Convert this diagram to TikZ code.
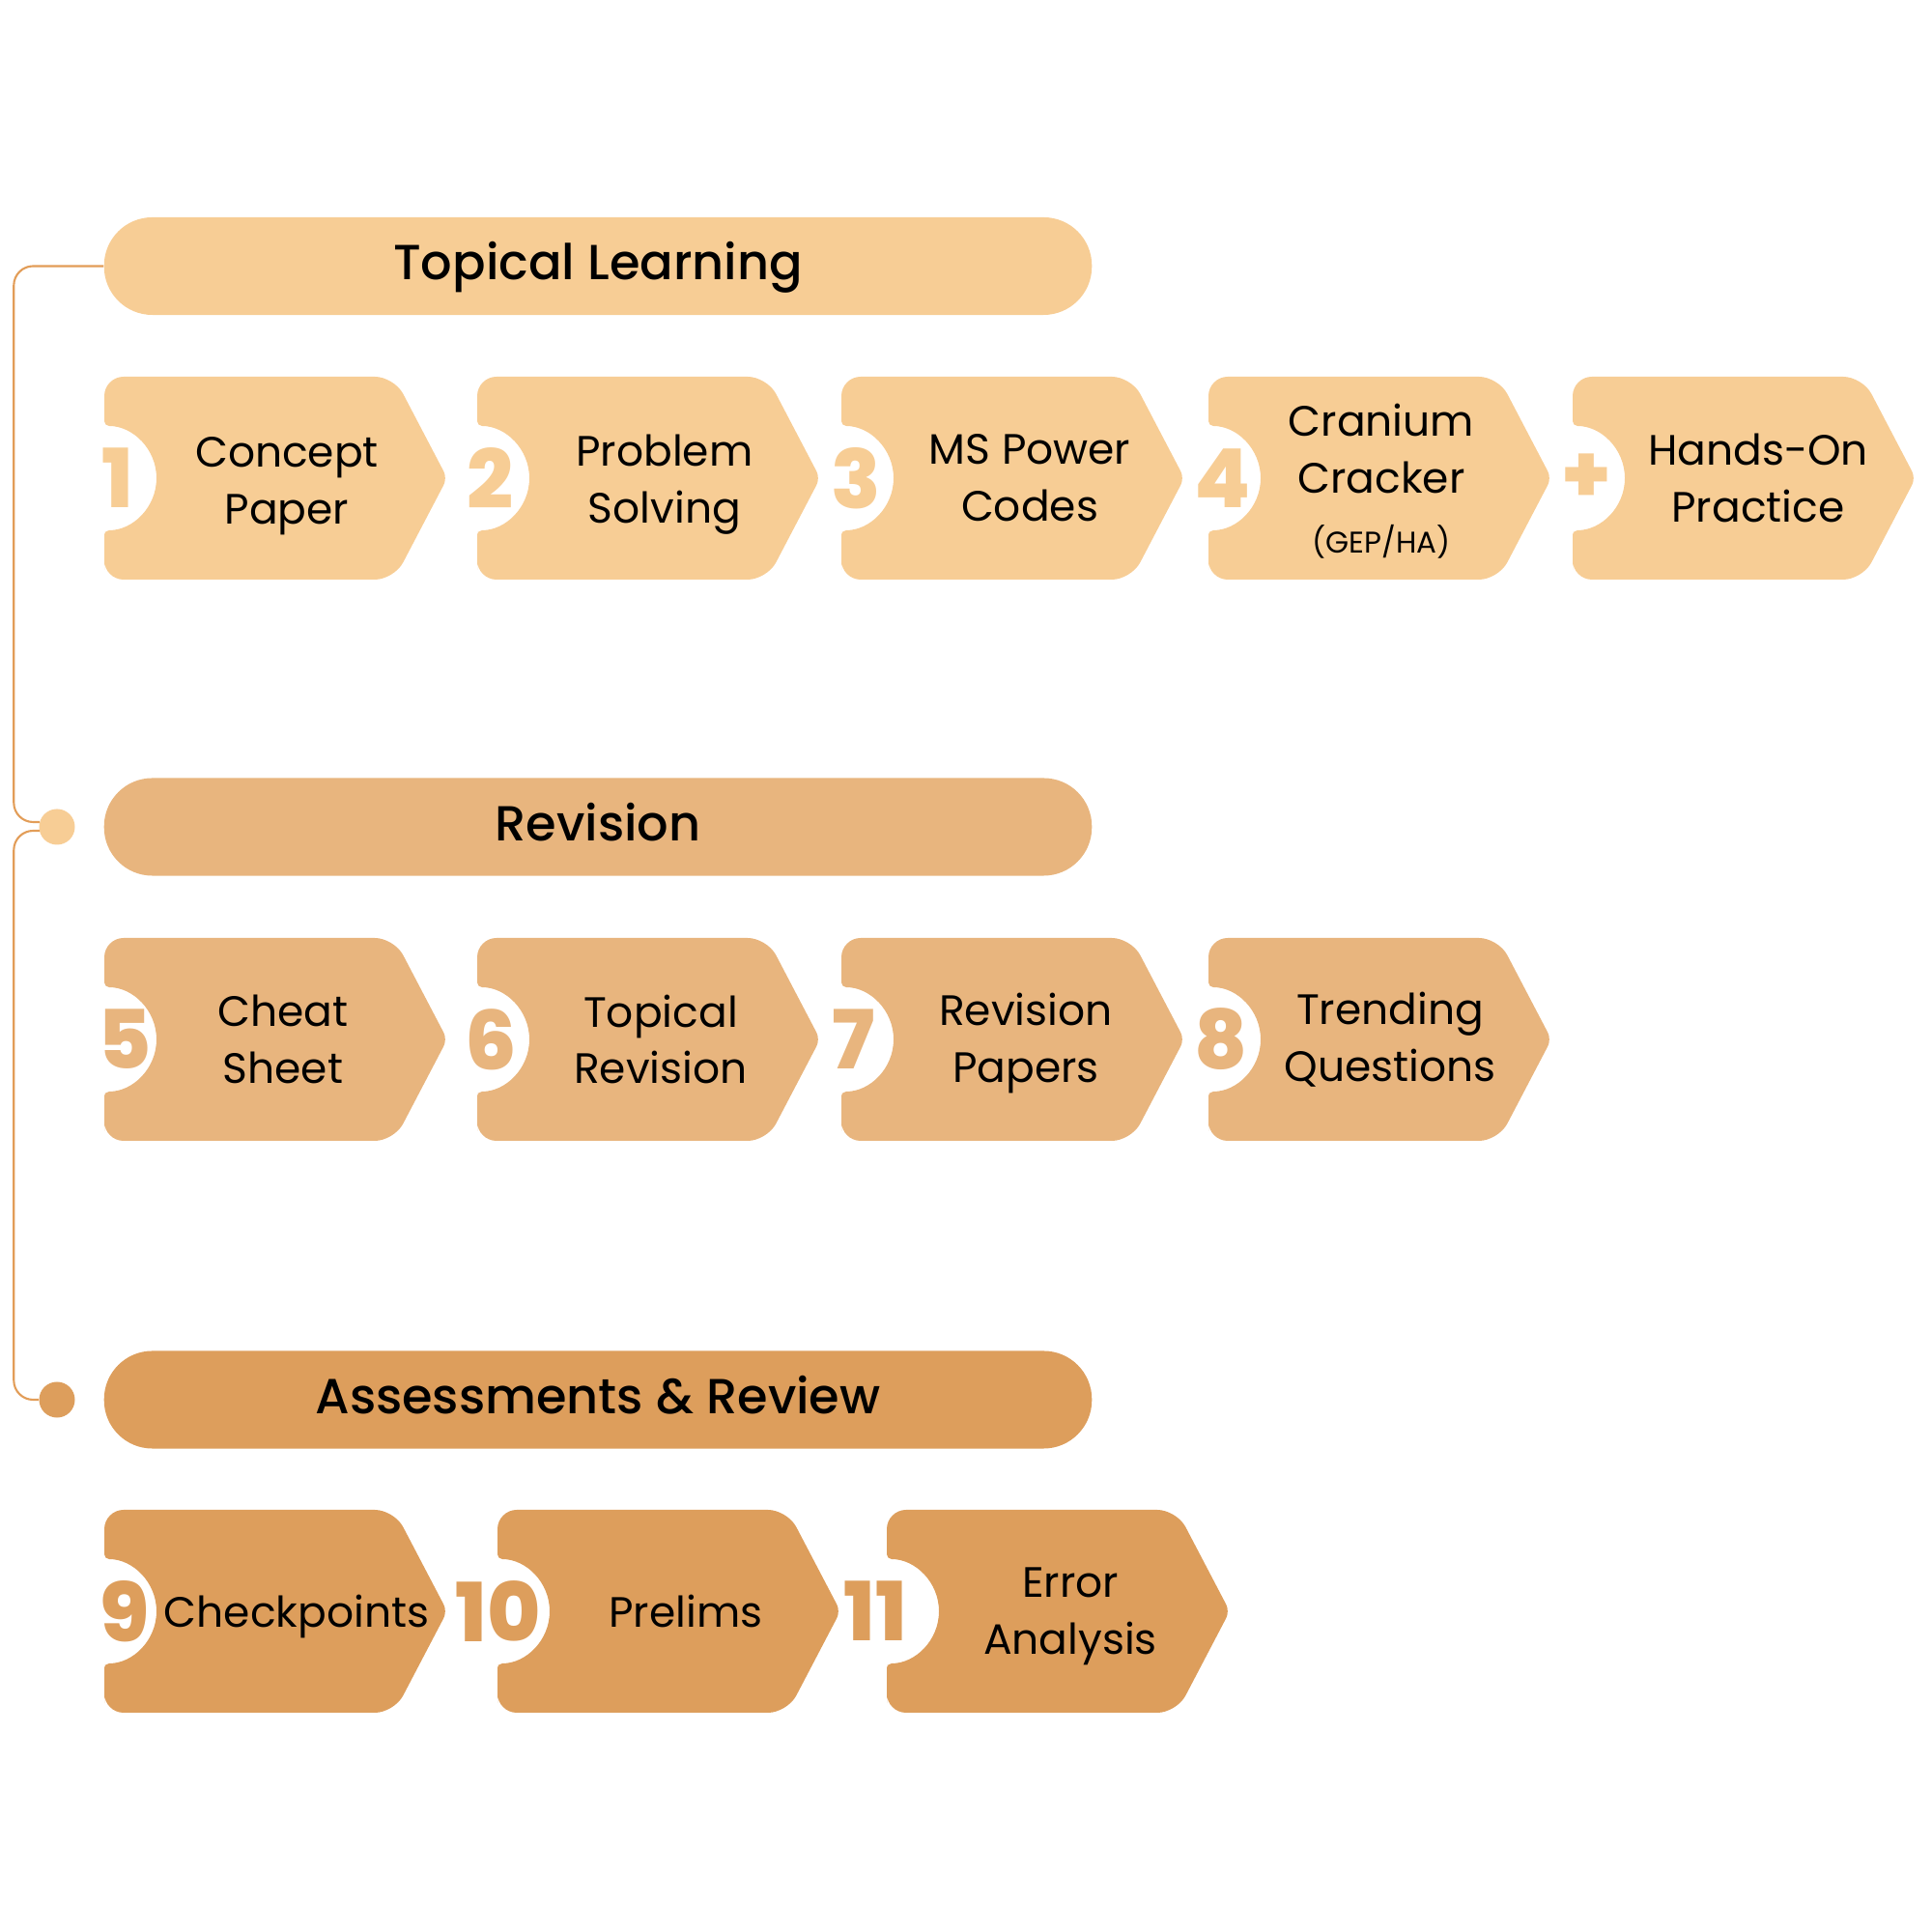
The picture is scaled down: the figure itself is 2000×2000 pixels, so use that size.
\documentclass[tikz,border=0pt]{standalone}
\usepackage{fontspec}
\setmainfont{Poppins}
\newfontfamily\headfont{Poppins}[UprightFont=* Medium]
\newfontfamily\numfont{Poppins}[UprightFont=* ExtraBold]
\definecolor{tlpeach}{HTML}{F7CD95}
\definecolor{rvtan}{HTML}{E8B57E}
\definecolor{asorange}{HTML}{DD9E5C}
\definecolor{linkline}{HTML}{E29D58}
\usetikzlibrary{calc,positioning}

% chevron with notch: left x, centre y, colour
\newcommand{\stepchev}[3]{%
  \fill[#3] (#1+150,#2+105) [rounded corners=0.2cm] -- (#1+300,#2+105)
    [rounded corners=0.08cm] -- (#1+355,#2) [rounded corners=0.2cm] -- (#1+300,#2-105)
    -- (#1,#2-105) -- (#1,#2-75) [rounded corners=0.05cm] -- (#1,#2-54) arc (-90:90:54)
    -- (#1,#2+75) [rounded corners=0.2cm] -- (#1,#2+105) -- cycle;}

\tikzset{
  headbar/.style={rounded corners=0.5cm, minimum width=10.22cm, minimum height=1.01cm,
    inner sep=0, text height=0.4cm, text depth=0.113cm,
    font=\headfont\fontsize{14.5}{17}\selectfont},
  steptext/.style={align=center, inner sep=0, font=\fontsize{12.5}{16.7}\selectfont},
  stepnum/.style={inner sep=0, font=\numfont\fontsize{24}{24}\selectfont},
  rowdot/.style={circle, inner sep=0, minimum size=0.37cm},
  link/.style={draw=linkline, line width=0.6pt, rounded corners=0.2cm},
}

\begin{document}
\begin{tikzpicture}[x=0.01cm,y=0.01cm]
  \useasboundingbox (0,0) rectangle (2000,2000);
  % Topical Learning
  \node[headbar, fill=tlpeach] (tl) at (619,1724.5) {Topical Learning};
  \stepchev{108}{1505}{tlpeach}
  \stepchev{494}{1505}{tlpeach}
  \stepchev{871}{1505}{tlpeach}
  \stepchev{1251}{1505}{tlpeach}
  \stepchev{1628}{1505}{tlpeach}
  \node[stepnum, text=tlpeach] (n1) at (122,1505) {1};
  \node[stepnum, text=tlpeach] (n2) at (508,1505) {2};
  \node[stepnum, text=tlpeach] (n3) at (886,1505) {3};
  \node[stepnum, text=tlpeach] (n4) at (1266,1505) {4};
  \node[stepnum, text=tlpeach] (nplus) at (1642,1505) {+};
  \node[steptext] (concept) at (297,1497) {Concept\\Paper};
  \node[steptext] (problem) at (688,1498) {Problem\\Solving};
  \node[steptext] (mspower) at (1066,1505) {MS Power\\Codes};
  \node[steptext] (cranium) at (1430,1502) {Cranium\\Cracker\\[1pt]{\fontsize{8.8}{10}\selectfont (GEP/HA)}};
  \node[steptext] (handson) at (1820,1505) {Hands-On\\Practice};
  % Revision
  \node[headbar, fill=rvtan] (rv) at (619,1144) {Revision};
  \node[rowdot, fill=tlpeach] (rvdot) at (59,1144) {};
  \stepchev{108}{924}{rvtan}
  \stepchev{494}{924}{rvtan}
  \stepchev{871}{924}{rvtan}
  \stepchev{1251}{924}{rvtan}
  \node[stepnum, text=rvtan] (n5) at (129,924) {5};
  \node[stepnum, text=rvtan] (n6) at (508,924) {6};
  \node[stepnum, text=rvtan] (n7) at (884,924) {7};
  \node[stepnum, text=rvtan] (n8) at (1264,924) {8};
  \node[steptext] (cheat) at (293,924) {Cheat\\Sheet};
  \node[steptext] (toprev) at (684,924) {Topical\\Revision};
  \node[steptext] (revpap) at (1062,920) {Revision\\Papers};
  \node[steptext] (trend) at (1439,924) {Trending\\Questions};
  % Assessments & Review
  \node[headbar, fill=asorange] (as) at (619,551) {Assessments \& Review};
  \node[rowdot, fill=asorange] (asdot) at (59,551) {};
  \stepchev{108}{332}{asorange}
  \stepchev{515}{332}{asorange}
  \stepchev{918}{332}{asorange}
  \node[stepnum, text=asorange] (n9) at (129,332) {9};
  \node[stepnum, text=asorange] (n10) at (516,332) {10};
  \node[stepnum, text=asorange] (n11) at (906,332) {11};
  \node[steptext] (checkp) at (307,327) {Checkpoints};
  \node[steptext] (prelims) at (710,332) {Prelims};
  \node[steptext] (error) at (1108,327) {Error\\Analysis};
  % side links
  \draw[link] (tl.west) -| ($(rvdot.west)+(-25.5,5)$) -- ($(rvdot.west)+(1,5)$);
  \draw[link] ($(rvdot.west)+(1,-4)$) -- ($(rvdot.west)+(-25.5,-4)$) |- (asdot.west);
\end{tikzpicture}
\end{document}
